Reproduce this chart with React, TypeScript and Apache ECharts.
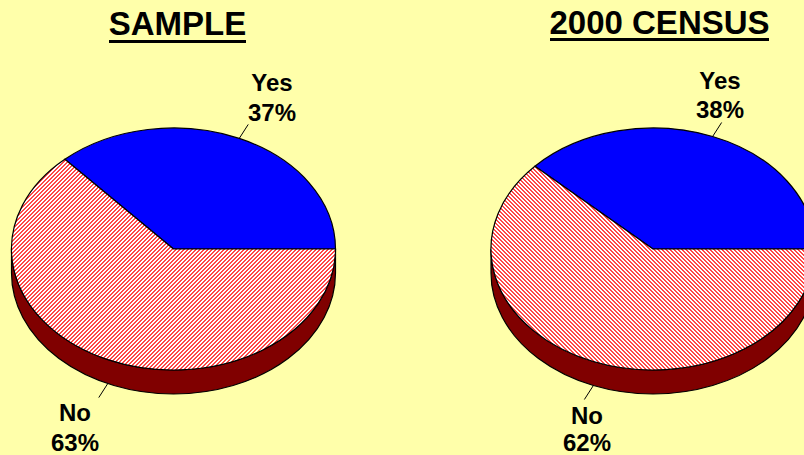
import React, { useEffect, useRef } from "react";
import * as echarts from "echarts";

const pieTitles = ["SAMPLE", "2000 CENSUS"];
const categories = ["Yes", "No"];
const sampleValues = [36.7, 63.3];
const censusValues = [38, 62];

const BG = "#FFFFAA";
const WIDTH = 804;
const HEIGHT = 455;
const RX = 162;
const RY = 121;
const DEPTH = 24;

const layouts = [
  {
    cx: 173.5, cy: 249, hatch: 1,
    titleX: 177.5, titleY: 7, titleSize: 33, underline: [109, 246, 40],
    labels: [
      { x: 272, y1: 82, y2: 112 },
      { x: 75, y1: 412, y2: 442 },
    ],
  },
  {
    cx: 653, cy: 249, hatch: -1,
    titleX: 659.5, titleY: 6, titleSize: 33, underline: [550, 769, 38],
    labels: [
      { x: 720, y1: 80, y2: 109 },
      { x: 587, y1: 415, y2: 442.5 },
    ],
  },
];

function hatchPattern(dir: number) {
  const c = document.createElement("canvas");
  c.width = 4;
  c.height = 4;
  const g = c.getContext("2d")!;
  g.fillStyle = "#ffffff";
  g.fillRect(0, 0, 4, 4);
  g.fillStyle = "#ff4848";
  for (let y = 0; y < 4; y++) {
    for (let x = 0; x < 4; x++) {
      if ((x + dir * y + 8) % 4 < 2) g.fillRect(x, y, 1, 1);
    }
  }
  return { image: c, repeat: "repeat" };
}

function pieSeries(values: number[], layout: (typeof layouts)[number], name: string) {
  const total = values.reduce((a, b) => a + b, 0);
  const { cx, cy } = layout;
  const pt = (deg: number, dy = 0) => {
    const a = (deg * Math.PI) / 180;
    return [cx + RX * Math.cos(a), cy - RY * Math.sin(a) + dy];
  };
  const pattern = hatchPattern(layout.hatch);
  return {
    type: "custom",
    name,
    coordinateSystem: "none",
    silent: true,
    clip: false,
    data: values.map((v, i) => [v, i]),
    renderItem: (_p: any, api: any) => {
      const i = api.value(1) as number;
      const before = values.slice(0, i).reduce((a, b) => a + b, 0);
      const start = (before / total) * 360;
      const end = ((before + values[i]) / total) * 360;
      const mid = (start + end) / 2;
      const [sx, sy] = pt(start);
      const [ex, ey] = pt(end);
      const large = end - start > 180 ? 1 : 0;
      const wedge = `M${cx} ${cy}L${sx} ${sy}A${RX} ${RY} 0 ${large} 0 ${ex} ${ey}Z`;
      const isLower = Math.sin((mid * Math.PI) / 180) < 0;
      const [ax, ay] = pt(mid, isLower ? DEPTH : 0);
      const dirX = Math.cos((mid * Math.PI) / 180) > 0 ? 9 : -9;
      const dirY = isLower ? 14 : -14;
      const label = layout.labels[i];
      const textStyle = {
        fontFamily: "Liberation Sans",
        fontWeight: "bold",
        fontSize: 24,
        fill: "#000",
        align: "center",
        verticalAlign: "middle",
      };
      const children: any[] = [];
      if (isLower) {
        children.push({
          type: "path",
          shape: {
            pathData: `M${cx + RX} ${cy}L${cx + RX} ${cy + DEPTH}A${RX} ${RY} 0 0 1 ${cx - RX} ${cy + DEPTH}L${cx - RX} ${cy}A${RX} ${RY} 0 0 0 ${cx + RX} ${cy}Z`,
          },
          style: { fill: "#800000", stroke: "#000", lineWidth: 1.2 },
        });
      }
      children.push(
        {
          type: "path",
          shape: { pathData: wedge },
          style: {
            fill: isLower ? pattern : "#0000FF",
            stroke: "#000",
            lineWidth: 1.2,
          },
        },
        {
          type: "line",
          shape: { x1: ax, y1: ay, x2: ax + dirX, y2: ay + dirY },
          style: { stroke: "#000", lineWidth: 1 },
        },
        { type: "text", x: label.x, y: label.y1, style: { ...textStyle, text: categories[i] } },
        { type: "text", x: label.x, y: label.y2, style: { ...textStyle, text: `${Math.round(values[i])}%` } }
      );
      return { type: "group", children };
    },
  };
}

export default function App() {
  const ref = useRef<HTMLDivElement>(null);
  useEffect(() => {
    document.body.style.margin = "0";
    document.body.style.background = BG;
    const chart = echarts.init(ref.current!, null, { renderer: "svg" });
    chart.setOption({
      animation: false,
      backgroundColor: BG,
      title: pieTitles.map((text, i) => ({
        text,
        left: layouts[i].titleX,
        top: layouts[i].titleY,
        textAlign: "center",
        padding: 0,
        textStyle: {
          fontFamily: "Liberation Sans",
          fontWeight: "bold",
          fontSize: layouts[i].titleSize,
          color: "#000",
        },
      })),
      graphic: layouts.map((l) => ({
        type: "rect",
        shape: { x: l.underline[0], y: l.underline[2], width: l.underline[1] - l.underline[0], height: 3 },
        style: { fill: "#000" },
      })),
      series: [
        pieSeries(sampleValues, layouts[0], pieTitles[0]),
        pieSeries(censusValues, layouts[1], pieTitles[1]),
      ],
    });
    return () => chart.dispose();
  }, []);
  return <div ref={ref} style={{ width: WIDTH, height: HEIGHT }} />;
}
